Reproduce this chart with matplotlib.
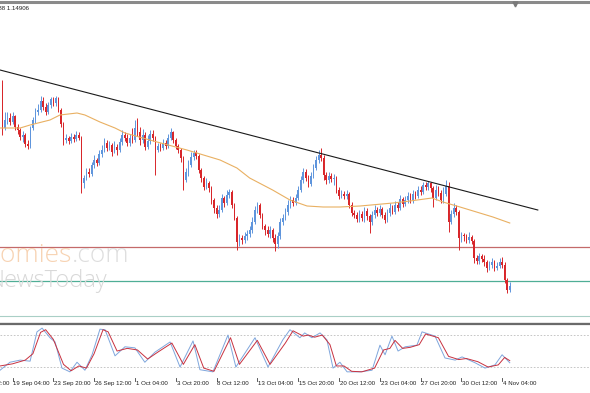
import matplotlib
matplotlib.use("Agg")
import matplotlib.pyplot as plt
from matplotlib.lines import Line2D
import numpy as np

W, H = 590, 393

# ---------------- data (price in points; price = 1.1 + pts/10000) ----------------
first_open = 415
close_pts = [372, 380, 382, 378, 384, 373, 370, 363, 365, 356,
             354, 372, 380, 388, 390, 399, 393, 388, 395, 401,
             397, 402, 390, 376, 360, 362, 359, 363, 361, 365,
             362, 317, 322, 328, 326, 335, 340, 337, 346, 350,
             357, 352, 355, 348, 353, 350, 358, 365, 362, 357,
             362, 360, 372, 368, 360, 365, 353, 359, 366, 362,
             350, 354, 352, 357, 354, 362, 368, 360, 354, 350,
             342, 320, 328, 335, 343, 347, 344, 330, 322, 313,
             317, 312, 300, 292, 286, 290, 302, 297, 305, 308,
             295, 282, 258, 262, 260, 264, 266, 270, 278, 290,
             295, 285, 274, 270, 266, 270, 262, 256, 264, 278,
             282, 288, 295, 300, 297, 302, 310, 320, 328, 322,
             316, 324, 332, 340, 345, 342, 325, 320, 324, 321,
             322, 310, 304, 306, 304, 306, 295, 287, 285, 281,
             286, 282, 289, 284, 278, 285, 290, 287, 291, 285,
             280, 287, 292, 288, 295, 292, 301, 296, 300, 304,
             300, 306, 304, 310, 308, 315, 313, 317, 312, 302,
             310, 307, 300, 306, 314, 278, 286, 292, 288, 262,
             265, 264, 260, 263, 259, 242, 239, 244, 241, 238,
             232, 235, 238, 232, 234, 238, 235, 220, 210, 214]
high_pts = [420, 388, 388, 387, 388, 385, 376, 372, 369, 367,
            360, 374, 383, 392, 396, 404, 403, 397, 398, 403,
            403, 404, 403, 392, 378, 366, 364, 367, 366, 369,
            368, 364, 325, 332, 332, 338, 345, 342, 350, 355,
            362, 360, 359, 357, 359, 356, 362, 370, 368, 366,
            366, 372, 380, 382, 373, 371, 368, 365, 370, 370,
            364, 357, 357, 361, 360, 366, 372, 369, 362, 356,
            352, 344, 332, 340, 348, 350, 350, 346, 332, 324,
            322, 319, 314, 302, 295, 295, 306, 304, 310, 311,
            310, 297, 284, 266, 265, 268, 270, 274, 283, 294,
            298, 297, 287, 276, 274, 274, 272, 266, 268, 282,
            286, 292, 300, 304, 303, 306, 314, 324, 332, 331,
            325, 328, 336, 344, 350, 352, 345, 328, 328, 327,
            326, 324, 313, 310, 309, 310, 308, 298, 290, 288,
            290, 289, 293, 292, 286, 289, 295, 293, 295, 293,
            288, 291, 297, 295, 299, 298, 305, 303, 304, 308,
            307, 310, 309, 314, 314, 318, 318, 319, 318, 314,
            315, 314, 310, 313, 320, 318, 290, 297, 295, 290,
            268, 267, 266, 268, 265, 261, 245, 247, 246, 245,
            240, 239, 242, 240, 238, 242, 243, 238, 222, 218]
low_pts = [365, 370, 376, 375, 376, 370, 366, 360, 358, 353,
           351, 352, 370, 377, 385, 388, 390, 385, 386, 392,
           394, 394, 388, 373, 355, 357, 356, 357, 358, 359,
           360, 307, 312, 320, 323, 324, 332, 334, 335, 343,
           348, 349, 350, 344, 347, 345, 348, 355, 359, 354,
           354, 357, 358, 364, 355, 357, 350, 351, 356, 359,
           325, 348, 349, 350, 351, 352, 360, 357, 351, 347,
           338, 310, 318, 324, 333, 340, 341, 327, 318, 310,
           311, 308, 296, 287, 282, 283, 288, 293, 295, 302,
           292, 280, 250, 254, 256, 257, 260, 263, 267, 276,
           287, 282, 271, 265, 263, 262, 258, 249, 252, 261,
           275, 280, 285, 292, 294, 295, 300, 308, 317, 319,
           313, 314, 322, 330, 337, 339, 320, 316, 317, 318,
           315, 307, 301, 302, 301, 301, 292, 284, 282, 278,
           278, 279, 278, 280, 267, 275, 282, 284, 284, 282,
           277, 278, 284, 286, 286, 289, 290, 293, 294, 297,
           297, 297, 301, 302, 305, 306, 310, 310, 308, 293,
           300, 304, 297, 297, 304, 268, 276, 283, 285, 250,
           258, 259, 257, 257, 256, 237, 236, 236, 238, 234,
           228, 230, 232, 229, 230, 232, 232, 217, 207, 208]

# moving average (orange) read at bar positions
ma_idx = [-0.9, 7, 10.9, 18.7, 22.6, 29.3, 32.4, 38.3, 44.2, 48.1, 60.7, 72.4,
          85.4, 92, 97, 106, 112.8, 119.5, 125.8, 132.4, 140.3, 153.2, 159.9,
          168.5, 172.8, 179.5, 192.4, 199]
ma_pts = [372, 372, 375, 380, 385, 387, 385, 378, 372, 367, 358, 350,
          340, 332, 322, 310, 300, 294, 293, 293, 294, 297, 299,
          302, 298, 293, 283, 277]

# resistance trendline and horizontal levels
trend_idx = [-0.9, 210]
trend_pts = [430, 290]
level_red = 253
level_green = 219

# stochastic oscillator
stk_idx = [-0.9, 3, 7, 10.9, 13.6, 15.6, 18.7, 20.7, 23.4, 26.5, 29.3, 32.4, 35.2,
           38.3, 40.3, 44.2, 48.1, 52, 55.9, 59.9, 65.8, 69.7, 74.8, 77.5, 82.6,
           88.5, 91.6, 99.1, 104.2, 110, 112.8, 116.7, 118.6, 121.4, 124.6, 127.3,
           129.7, 132.4, 135.2, 140.3, 145, 148.1, 150.1, 152.8, 155.2, 158, 162.6,
           164.6, 169.7, 173.6, 177.6, 180.3, 185.4, 189.3, 193.2, 196, 199]
stk_val = [14, 29, 33, 31, 86, 93, 75, 67, 18, 11, 29, 14, 43,
           91, 90, 41, 58, 56, 29, 48, 67, 20, 69, 15, 11,
           80, 20, 75, 20, 71, 90, 75, 84, 75, 84, 71,
           18, 29, 11, 11, 14, 61, 43, 78, 50, 58, 61,
           86, 78, 37, 33, 39, 28, 18, 24, 43, 28]
sig_idx = [-0.9, 4, 9, 12, 15, 17, 20, 24, 27, 30, 33, 36, 39.5, 41.5, 45, 49,
           53, 57, 61, 66.5, 71, 75.5, 79, 83, 89.5, 93, 100, 105, 111, 114,
           118, 120, 122.5, 125.5, 128.5, 131, 134, 137, 141, 146, 149.5, 152,
           154, 157, 160, 163.5, 166, 171, 175, 179, 182, 186.5, 190.5, 194.5,
           197, 199]
sig_val = [22, 26, 33, 45, 85, 90, 72, 25, 13, 22, 18, 45, 90, 86, 50, 55,
           52, 35, 48, 65, 25, 62, 18, 12, 75, 25, 70, 25, 65, 88,
           78, 80, 76, 80, 62, 22, 22, 12, 11, 18, 52, 55,
           70, 55, 57, 62, 82, 75, 40, 34, 36, 30, 20, 24,
           38, 32]
stoch_levels = [20, 80]

tick_idx = [-12, 4, 20, 36, 52, 68, 84, 100, 116, 132, 148, 164, 180, 196]
tick_labels = ["16 Sep 12:00", "19 Sep 04:00", "23 Sep 20:00", "26 Sep 12:00",
               "1 Oct 04:00", "3 Oct 20:00", "8 Oct 12:00", "13 Oct 04:00",
               "15 Oct 20:00", "20 Oct 12:00", "23 Oct 04:00", "27 Oct 20:00",
               "30 Oct 12:00", "4 Nov 04:00"]

# ---------------- conversion ----------------
def to_price(p):
    return 1.1 + np.asarray(p, dtype=float) / 10000.0

closes = to_price(close_pts)
highs = to_price(high_pts)
lows = to_price(low_pts)
opens = np.concatenate([[to_price(first_open)], closes[:-1]])
idx = np.arange(len(closes))

# ---------------- figure ----------------
fig = plt.figure(figsize=(W / 100, H / 100), dpi=100)
fig.patch.set_facecolor("white")

def fy(py):
    return 1 - py / H

X0 = -2.3 / 2.55
X1 = (W - 2.3) / 2.55

# main chart axes: pixel rows 5..320
ax = fig.add_axes([0, fy(320), 1, (320 - 5) / H])
ax.set_xlim(X0, X1)
ax.set_ylim(to_price(500 - 320), to_price(500 - 5))
ax.axis("off")

bull_c = "#5f95dc"
bear_c = "#d8262a"
up = closes >= opens
cols = np.where(up, bull_c, bear_c)
ax.vlines(idx, lows, highs, colors=cols, linewidth=0.7, zorder=3)
body_bot = np.minimum(opens, closes)
body_h = np.maximum(np.abs(closes - opens), 0.00008)
ax.bar(idx, body_h, bottom=body_bot, width=0.62, color=cols, linewidth=0, zorder=4)

ax.plot(ma_idx, to_price(ma_pts), color="#e9b062", linewidth=0.8, zorder=5)
ax.plot(trend_idx, to_price(trend_pts), color="#1a1a1a", linewidth=0.8, zorder=6)
ax.axhline(to_price(level_red), color="#c46a6a", linewidth=0.9, zorder=2)
ax.axhline(to_price(level_green), color="#4fae96", linewidth=0.9, zorder=2)

# watermark
fig.text(72 / W, fy(262), "Economies", ha="right", va="baseline", fontsize=19,
         color="#f7d3b3", family="Open Sans", fontweight="light", zorder=1)
fig.text(72 / W, fy(262), ".com", ha="left", va="baseline", fontsize=19,
         color="#dedede", family="Open Sans", fontweight="light", zorder=1)
fig.text(107 / W, fy(287), "NewsToday", ha="right", va="baseline", fontsize=17,
         color="#d8d8d8", family="Open Sans", fontweight="light", zorder=1)

# header text (clipped at left)
fig.text(29 / W, fy(10.5), "1.14888 1.14906", ha="right", va="baseline",
         fontsize=4.4, color="#202020", family="Liberation Sans")

# stochastic axes: pixel rows 323..377.7
sx = fig.add_axes([0, fy(377.7), 1, (377.7 - 323) / H])
sx.set_xlim(X0, X1)
sx.set_ylim(0, 102.6)
sx.axis("off")
for lv in stoch_levels:
    sx.axhline(lv, color="#bdbdbd", linewidth=0.6, linestyle=(0, (2, 2)))
sx.plot(stk_idx, stk_val, color="#7fa6dc", linewidth=0.7)
sx.plot(sig_idx, sig_val, color="#c8313f", linewidth=0.7)

# time axis
tx = fig.add_axes([0, 0, 1, fy(378)])
tx.set_xlim(X0, X1)
tx.set_ylim(0, 1)
tx.axis("off")
for t, lab in zip(tick_idx, tick_labels):
    tx.plot([t, t], [0.78, 1.0], color="#404040", linewidth=0.6)
    tx.text(t + 0.35, 0.62, lab, ha="left", va="center", fontsize=4.4,
            color="#202020", family="Liberation Sans")

# frame lines
def hline_px(py, color, lw):
    fig.add_artist(Line2D([0, 1], [fy(py), fy(py)], color=color, linewidth=lw,
                          transform=fig.transFigure))

hline_px(1.5, "#8a8a8a", 2.2)
hline_px(315.5, "#a9cfc6", 0.8)
hline_px(322.5, "#cfcfcf", 1.0)
hline_px(324.2, "#6a6a6a", 1.6)
fig.add_artist(Line2D([515 / W], [fy(4)], marker="v", markersize=3.5,
                      color="#7a7a7a", transform=fig.transFigure, linestyle="none"))

fig.savefig("out.png", dpi=100, facecolor="white")
